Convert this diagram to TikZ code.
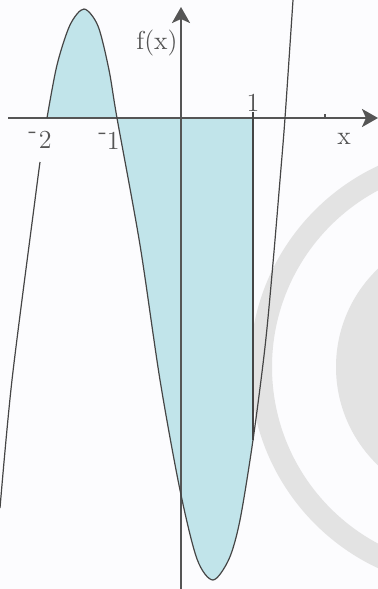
\documentclass[tikz,border=0pt]{standalone}
\usepackage{tikz}
\usetikzlibrary{arrows.meta,positioning}
\definecolor{axisgray}{HTML}{555555}
\definecolor{curvegray}{HTML}{454545}
\definecolor{areablue}{HTML}{C1E4EA}
\definecolor{ringgray}{HTML}{E3E3E3}
\definecolor{paper}{HTML}{FCFCFE}

\begin{document}
\begin{tikzpicture}[x=0.5pt,y=-0.5pt,
	axis/.style={draw=axisgray,line width=1.3pt,-{Stealth[length=8pt,width=9pt,inset=2pt]}},
	curve/.style={draw=curvegray,line width=0.6pt},
	area/.style={fill=areablue},
	ring/.style={fill=ringgray},
	lbl/.style={text=axisgray,font=\fontsize{13}{15}\selectfont,inner sep=0pt}
	]
	\useasboundingbox (0,0) rectangle (378,589);
	\fill[paper] (0,0) rectangle (378,589);
	\clip (0,0) rectangle (378,589);
	% ring in the background
	\coordinate (rc) at (472,367);
	\fill[ring,even odd rule] (rc) circle[radius=222] (rc) circle[radius=200];
	\fill[ring] (rc) circle[radius=136];
	% shaded area from -2 to 1
	\begin{scope}
		\clip (47,0) rectangle (253,589);
		\fill[area] plot[smooth] coordinates {(47,118) (57,65) (70,25) (84,9) (98,26) (109,70) (117,118)
			(140,245) (160,380) (180,490) (197,559) (213,580) (229,559) (240,520) (253,440) (265,347)
			(273,263) (280,180) (285,118)} -- cycle;
	\end{scope}
	% axes
	\coordinate (xa) at (8,118);
	\coordinate (xb) at (378,118);
	\coordinate (ya) at (181,589);
	\coordinate (yb) at (181,7);
	\draw[axis] (xa) -- (xb);
	\draw[axis] (ya) -- (yb);
	% ticks and the line at 1
	\coordinate (tick1) at (253,112);
	\coordinate (foot1) at (253,440);
	\coordinate (tick2) at (325,114);
	\coordinate (base2) at (325,118);
	\draw[curvegray,line width=0.8pt] (tick1) -- (foot1);
	\draw[axisgray,line width=0.6pt] (tick2) -- (base2);
	% the curve
	\draw[curve] plot[smooth] coordinates {(40,162) (35,200) (12,380) (0,508)};
	\draw[curve] plot[smooth] coordinates {(47,118) (57,65) (70,25) (84,9) (98,26) (109,70) (117,118)
		(140,245) (160,380) (180,490) (197,559) (213,580) (229,559) (240,520) (253,440) (265,347)
		(273,263) (280,180) (285,118) (293,0)};
	% labels
	\node[lbl,above=0pt of tick1] (one) {1};
	\node[lbl] (fx) at (157,43) {f(x)};
	\node[lbl] (xlab) at (344,139) {x};
	\node[lbl] (mtwo) at (40,140) {\raisebox{.4em}{-}\kern1pt2};
	\node[lbl] (mone) at (109,141) {\raisebox{.4em}{-}1};
\end{tikzpicture}
\end{document}
